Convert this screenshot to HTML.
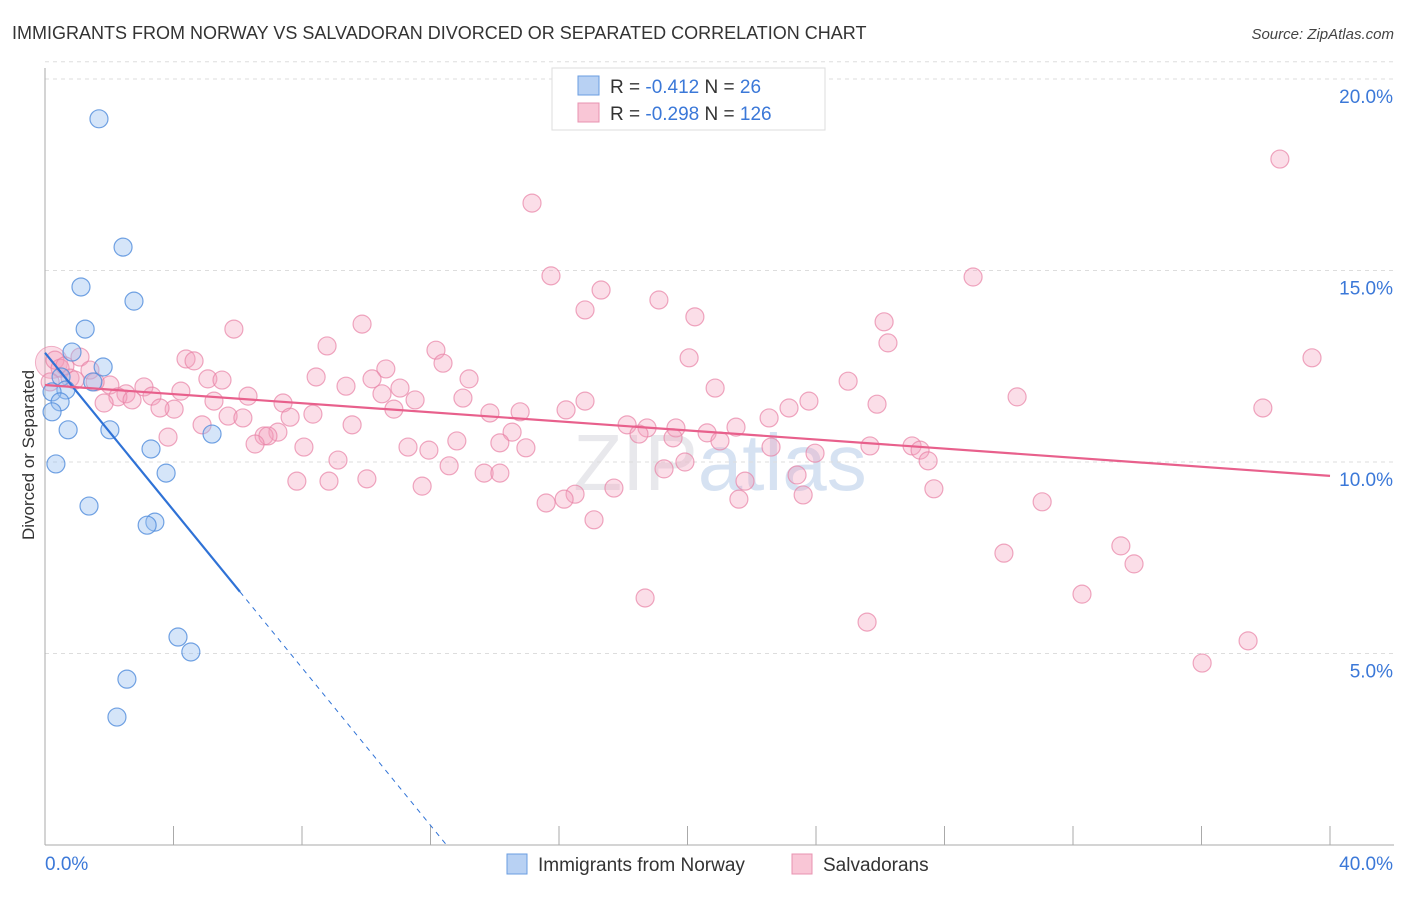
<!DOCTYPE html>
<html><head><meta charset="utf-8"><style>
body{margin:0;background:#fff;font-family:"Liberation Sans",sans-serif}
svg text{font-family:"Liberation Sans",sans-serif}
</style></head><body>
<svg id="chart" width="1406" height="892" viewBox="0 0 1406 892" xmlns="http://www.w3.org/2000/svg">
<text x="12" y="39" font-size="18" fill="#333">IMMIGRANTS FROM NORWAY VS SALVADORAN DIVORCED OR SEPARATED CORRELATION CHART</text>
<text x="1394" y="39" font-size="15" fill="#444" text-anchor="end" font-style="italic">Source: ZipAtlas.com</text>
<text x="720" y="490" font-size="80" fill="#e8e8ec" text-anchor="middle" font-family="Liberation Serif">ZIP<tspan fill="#d6e2f2" font-family="Liberation Sans">atlas</tspan></text>
<g id="grid"></g>
<g id="axes"></g>
<g id="pinkPts"></g>
<g id="bluePts"></g>
<g id="trends"></g>
<text transform="translate(34,455) rotate(-90)" font-size="17" fill="#333" text-anchor="middle">Divorced or Separated</text>
<g>
<rect x="552" y="68" width="273" height="62" fill="#fff" stroke="#ddd"/>
<rect x="578" y="76" width="21" height="19" fill="#b8d1f3" stroke="#6a9de0"/>
<rect x="578" y="103" width="21" height="19" fill="#f9c6d6" stroke="#e893b0"/>
<text x="610" y="93" font-size="19" fill="#333">R = <tspan fill="#3b78d8">-0.412</tspan>   N = <tspan fill="#3b78d8"> 26</tspan></text>
<text x="610" y="120" font-size="19" fill="#333">R = <tspan fill="#3b78d8">-0.298</tspan>   N = <tspan fill="#3b78d8">126</tspan></text>
</g>
<g>
<rect x="507" y="854" width="20" height="20" fill="#b8d1f3" stroke="#6a9de0"/>
<text x="538" y="871" font-size="19" fill="#333">Immigrants from Norway</text>
<rect x="792" y="854" width="20" height="20" fill="#f9c6d6" stroke="#e893b0"/>
<text x="823" y="871" font-size="19" fill="#333">Salvadorans</text>
</g>
</svg>
<script>
const yTicks=[5,10,15,20];
const xTickLabels=["0.0%","40.0%"];
const blueX=[1.68,2.43,1.12,2.77,1.25,0.84,1.81,0.50,0.65,0.22,1.49,0.47,0.22,0.72,2.02,5.20,3.30,0.34,3.77,1.37,3.42,3.18,4.14,4.54,2.55,2.24];
const blueY=[18.96,15.61,14.57,14.20,13.47,12.87,12.48,12.22,11.88,11.83,12.09,11.57,11.31,10.84,10.84,10.73,10.34,9.95,9.71,8.85,8.43,8.35,5.43,5.04,4.33,3.34];
const pinkX=[38.44,15.16,15.75,28.89,17.31,19.11,16.81,20.23,26.12,9.87,5.88,8.78,26.24,12.17,4.39,4.64,20.05,39.44,12.39,10.61,8.44,5.07,5.51,13.20,25.00,10.18,2.02,9.37,3.08,11.05,20.86,4.23,10.49,2.52,2.27,6.32,3.33,30.26,13.01,11.52,16.81,23.78,1.84,7.41,2.71,5.26,25.90,10.86,23.16,4.02,3.58,8.34,14.79,16.22,37.91,5.70,6.16,7.63,13.85,22.54,4.89,9.56,18.12,21.51,18.74,19.64,18.49,7.25,3.83,6.82,6.94,14.54,20.61,6.54,19.55,21.01,12.82,8.06,11.30,11.95,14.16,22.60,25.68,14.97,23.97,26.99,27.24,9.12,27.49,19.92,12.58,19.27,13.67,14.16,23.41,7.84,8.84,10.02,11.74,21.79,17.71,16.50,16.16,15.60,27.67,23.60,21.60,31.04,17.09,33.49,29.85,33.90,32.28,18.68,25.59,37.45,36.02,0.31,0.47,0.62,0.78,1.09,1.40,1.56,0.93,0.16];
const pinkY=[17.91,16.76,14.86,14.83,14.49,14.23,13.97,13.79,13.66,13.60,13.47,13.03,13.11,12.92,12.69,12.64,12.72,12.72,12.58,12.43,12.22,12.17,12.14,12.17,12.11,12.17,12.01,11.98,11.96,11.93,11.93,11.85,11.78,11.78,11.70,11.72,11.72,11.70,11.67,11.62,11.59,11.59,11.54,11.54,11.62,11.59,11.51,11.38,11.41,11.38,11.41,11.25,11.31,11.36,11.41,11.20,11.15,11.17,11.28,11.15,10.97,10.97,10.97,10.91,10.89,10.89,10.73,10.78,10.65,10.68,10.68,10.78,10.76,10.47,10.63,10.55,10.55,10.39,10.39,10.31,10.50,10.39,10.42,10.37,10.23,10.42,10.31,10.05,10.03,10.00,9.90,9.82,9.71,9.71,9.66,9.50,9.50,9.56,9.37,9.50,9.32,9.16,9.03,8.93,9.30,9.14,9.03,8.96,8.49,7.81,7.62,7.34,6.55,6.45,5.82,5.33,4.75,12.66,12.45,12.51,12.19,12.74,12.40,12.09,12.14,12.09];
const blueTrend=[12.85,-1.028]; // intercept, slope
const pinkTrend=[12.01,-0.0593];
const blueSolidEnd=6.07;
const NS="http://www.w3.org/2000/svg";
const X0=45,X1=1330,XMAX=40,Y0=845,YPER=38.3;
function sx(v){return X0+v*(X1-X0)/XMAX}
function sy(v){return Y0-v*YPER}
function mk(tag,attrs,parent){const e=document.createElementNS(NS,tag);for(const k in attrs)e.setAttribute(k,attrs[k]);parent.appendChild(e);return e}
const grid=document.getElementById('grid'),axes=document.getElementById('axes');
yTicks.forEach(t=>{
 const l=mk('line',{x1:45,x2:1394,y1:sy(t),y2:sy(t),stroke:'#ddd','stroke-dasharray':'4 4'},grid);
 
 
 const tx=mk('text',{x:1393,y:sy(t)+24,'font-size':19,fill:'#3b78d8','text-anchor':'end'},axes);
 tx.textContent=t.toFixed(1)+'%';
 
 
});
const tl=mk('line',{x1:45,x2:1394,y1:sy(20.45),y2:sy(20.45),stroke:'#ddd','stroke-dasharray':'4 4'},grid);


const ya=mk('line',{x1:45,x2:45,y1:68,y2:845,stroke:'#aaa'},axes);


const xa=mk('line',{x1:45,x2:1394,y1:845,y2:845,stroke:'#aaa'},axes);


for(let i=0;i<=10;i++){
 const t=mk('line',{x1:sx(i*4),x2:sx(i*4),y1:826,y2:845,stroke:'#aaa'},axes);
 
 
}
const xl0=mk('text',{x:45,y:870,'font-size':19,fill:'#3b78d8'},axes);xl0.textContent=xTickLabels[0];


const xl1=mk('text',{x:1393,y:870,'font-size':19,fill:'#3b78d8','text-anchor':'end'},axes);xl1.textContent=xTickLabels[1];


const pg=document.getElementById('pinkPts');
const big=mk('circle',{cx:sx(0.2),cy:sy(12.6),r:16,fill:'rgba(244,160,188,0.35)',stroke:'rgba(232,130,165,0.6)'},pg);


pinkX.forEach((x,i)=>{
 const c=mk('circle',{cx:sx(x),cy:sy(pinkY[i]),r:9,fill:'rgba(244,160,188,0.35)',stroke:'rgba(232,130,165,0.7)','stroke-width':1.2},pg);
 
 
});
const bg=document.getElementById('bluePts');
blueX.forEach((x,i)=>{
 const c=mk('circle',{cx:sx(x),cy:sy(blueY[i]),r:9,fill:'rgba(150,190,240,0.4)',stroke:'rgba(80,140,220,0.8)','stroke-width':1.2},bg);
 
 
});
const tg=document.getElementById('trends');
const bf=v=>blueTrend[0]+blueTrend[1]*v, pf=v=>pinkTrend[0]+pinkTrend[1]*v;
const zeroX=-blueTrend[0]/blueTrend[1];
const l1=mk('line',{x1:sx(0),y1:sy(bf(0)),x2:sx(blueSolidEnd),y2:sy(bf(blueSolidEnd)),stroke:'#2f72d6','stroke-width':2.2},tg);


const l2=mk('line',{x1:sx(blueSolidEnd),y1:sy(bf(blueSolidEnd)),x2:sx(zeroX),y2:sy(0),stroke:'#2f72d6','stroke-width':1,'stroke-dasharray':'5 5'},tg);


const l3=mk('line',{x1:sx(0),y1:sy(pf(0)),x2:sx(40),y2:sy(pf(40)),stroke:'#e8608c','stroke-width':2.2},tg);


</script>
</body></html>
